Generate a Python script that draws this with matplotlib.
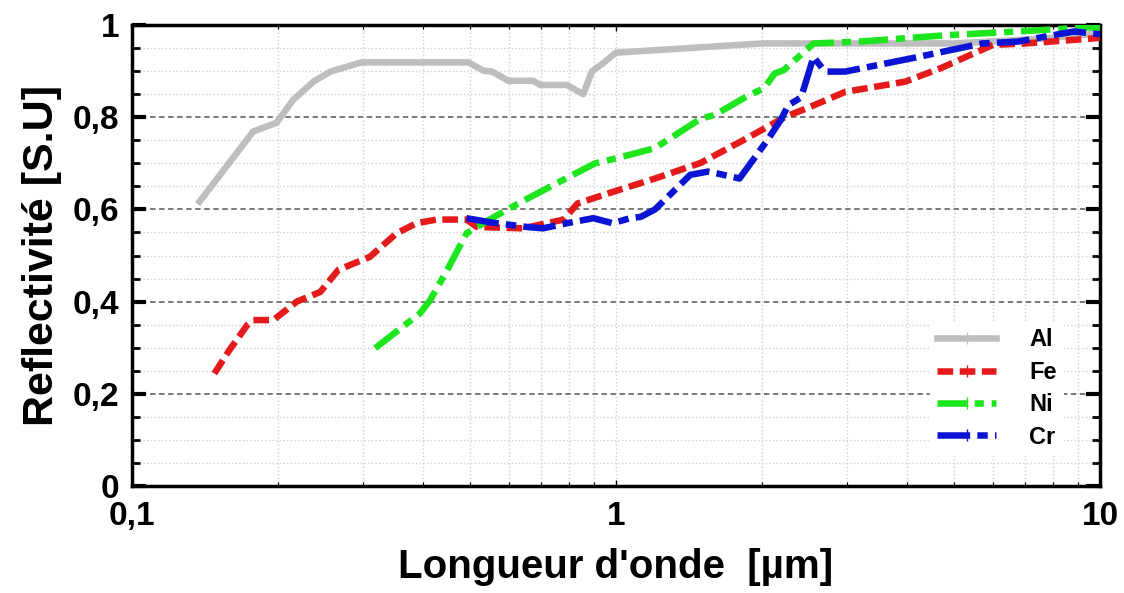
import matplotlib
matplotlib.use("Agg")
import matplotlib.pyplot as plt
from matplotlib.lines import Line2D
from matplotlib.ticker import FixedLocator, MultipleLocator, FuncFormatter, LogLocator, NullFormatter

# wavelength [um] / reflectivity
al_x = [0.138, 0.178, 0.199, 0.215, 0.237, 0.257, 0.298, 0.496, 0.532, 0.555, 0.599, 0.675,
        0.697, 0.791, 0.856, 0.891, 0.94, 1.0, 2.0, 5.0, 7.5, 10.0]
al_y = [0.617, 0.769, 0.788, 0.837, 0.877, 0.899, 0.919, 0.919, 0.901, 0.899, 0.879, 0.879,
        0.87, 0.87, 0.85, 0.899, 0.917, 0.94, 0.96, 0.96, 0.97, 0.982]

fe_x = [0.148, 0.159, 0.173, 0.178, 0.196, 0.219, 0.245, 0.267, 0.31, 0.352, 0.387, 0.426,
        0.491, 0.516, 0.643, 0.719, 0.78, 0.833, 0.985, 1.204, 1.497, 1.861, 2.239, 2.475,
        2.976, 3.954, 4.68, 6.01, 6.99, 10.0]
fe_y = [0.244, 0.295, 0.349, 0.36, 0.36, 0.40, 0.421, 0.469, 0.497, 0.548, 0.57, 0.578,
        0.578, 0.562, 0.559, 0.57, 0.578, 0.613, 0.638, 0.667, 0.701, 0.754, 0.801, 0.819,
        0.855, 0.877, 0.906, 0.957, 0.96, 0.972]

ni_x = [0.318, 0.394, 0.413, 0.45, 0.491, 0.532, 0.594, 0.73, 0.906, 1.003, 1.204, 1.497,
        1.601, 1.861, 2.024, 2.128, 2.22, 2.517, 2.56, 3.18, 4.84, 6.76, 9.44, 10.0]
ni_y = [0.299, 0.375, 0.403, 0.472, 0.548, 0.57, 0.599, 0.649, 0.70, 0.711, 0.733, 0.797,
        0.805, 0.845, 0.863, 0.895, 0.902, 0.953, 0.96, 0.964, 0.978, 0.986, 0.995, 0.993]

cr_x = [0.491, 0.558, 0.654, 0.707, 0.791, 0.898, 0.985, 1.069, 1.126, 1.204, 1.424, 1.549,
        1.62, 1.80, 2.058, 2.19, 2.27, 2.413, 2.56, 2.669, 2.73, 2.976, 4.09, 5.71, 6.76,
        8.83, 10.0]
cr_y = [0.581, 0.571, 0.562, 0.559, 0.57, 0.581, 0.57, 0.581, 0.584, 0.60, 0.675, 0.682,
        0.678, 0.667, 0.751, 0.794, 0.826, 0.843, 0.931, 0.906, 0.899, 0.899, 0.928, 0.96,
        0.964, 0.986, 0.98]

labels = ["Al", "Fe", "Ni", "Cr"]
x_ticks = [0.1, 1, 10]
x_tick_labels = ["0,1", "1", "10"]

plt.rcParams['font.family'] = ['Liberation Sans', 'DejaVu Sans']
plt.rcParams['font.weight'] = 'bold'

fig = plt.figure(figsize=(11.24, 5.93), dpi=100)
ax = fig.add_axes([0.1174, 0.1804, 0.8612, 0.7774])

lw = 4.7
styles = [
    dict(color="#bebebe", linestyle="-"),
    dict(color="#e51a1a", dashes=(2.4, 1.0)),
    dict(color="#1ee61e", dashes=(4.5, 1.2, 1.4, 1.2)),
    dict(color="#0a14d2", dashes=(5.0, 1.1, 1.6, 1.1)),
]
series = [(al_x, al_y), (fe_x, fe_y), (ni_x, ni_y), (cr_x, cr_y)]

handles = []
for (xs, ys), st, lab in zip(series, styles, labels):
    ax.plot(xs, ys, lw=lw, zorder=3, **st)
    handles.append(Line2D([], [], lw=lw, marker="|", markersize=9, markeredgewidth=1.0,
                          label=lab, **st))

ax.set_xscale("log")
ax.set_xlim(0.1, 10)
ax.set_ylim(0, 1)

ax.xaxis.set_major_locator(FixedLocator(x_ticks))
ax.set_xticklabels(x_tick_labels)
ax.xaxis.set_minor_locator(LogLocator(base=10, subs=range(2, 10)))
ax.xaxis.set_minor_formatter(NullFormatter())

ax.yaxis.set_major_locator(MultipleLocator(0.2))
ax.yaxis.set_minor_locator(MultipleLocator(0.05))
ax.yaxis.set_major_formatter(FuncFormatter(lambda v, p: "0" if abs(v) < 1e-9 else ("1" if abs(v - 1) < 1e-9 else f"{v:.1f}".replace(".", ","))))

# grid
ax.grid(which="minor", axis="both", color="#d0d0d0", linestyle=":", linewidth=1.0)
ax.grid(which="major", axis="x", color="#d0d0d0", linestyle=":", linewidth=1.0)
ax.grid(which="major", axis="y", color="#707070", linestyle="--", linewidth=1.3, dashes=(3, 2))
ax.set_axisbelow(True)

for sp in ax.spines.values():
    sp.set_linewidth(2.5)

ax.tick_params(which="major", axis="y", direction="in", length=10, width=3, left=True, right=True,
               labelsize=24, pad=9)
ax.tick_params(which="minor", axis="y", direction="in", length=6, width=2, left=True, right=True)
ax.tick_params(which="major", axis="x", direction="in", length=4, width=1, top=True, bottom=True,
               labelsize=24, pad=11)
ax.tick_params(which="minor", axis="x", direction="in", length=3, width=0.8, top=True, bottom=True)
for t in ax.get_xticklabels() + ax.get_yticklabels():
    t.set_fontweight("bold")

ax.set_ylabel("Reflectivité [S.U]", fontsize=31, fontweight="bold", labelpad=8)
ax.set_xlabel("Longueur d'onde  [µm]", fontsize=29, fontweight="bold", labelpad=11)

leg = ax.legend(handles=handles, loc="lower right", bbox_to_anchor=(0.975, 0.04),
                fontsize=17, handlelength=2.5, handletextpad=1.4, labelspacing=0.4,
                frameon=True, numpoints=1, borderpad=0.3)
leg.get_frame().set_edgecolor("none")
leg.get_frame().set_facecolor("white")
leg.get_frame().set_alpha(1)
for t in leg.get_texts():
    t.set_fontweight("bold")

fig.savefig("out.png", dpi=100)
